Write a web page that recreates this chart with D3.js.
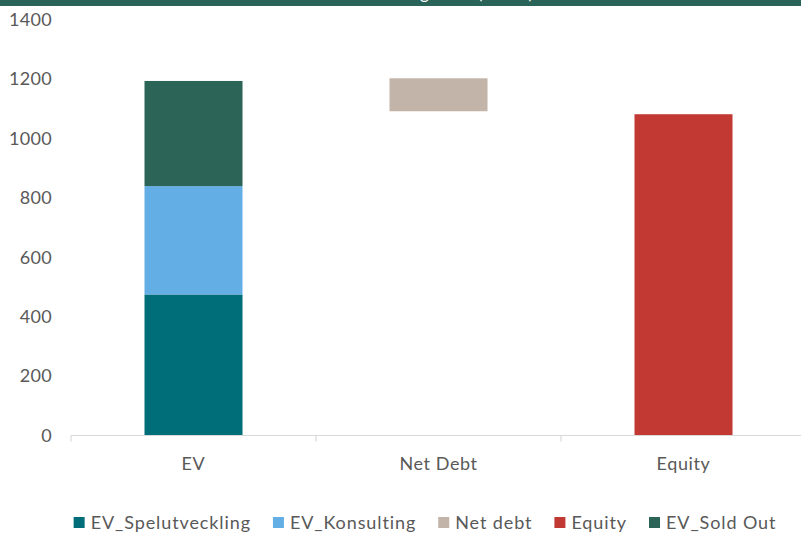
<!DOCTYPE html>
<html>
<head>
<meta charset="utf-8">
<script src="https://cdn.jsdelivr.net/npm/d3@7"></script>
<style>
  html, body { margin: 0; padding: 0; background: #fff; }
  svg { display: block; font-family: Lato, "Noto Sans", sans-serif; }
</style>
</head>
<body>
<svg id="chart" width="801" height="535"></svg>
<script>
// Categories and series (MSEK)
const categories = ["EV", "Net Debt", "Equity"];
const netDebtBase = [0, 1092, 0];          // invisible spacer under the net debt block
const evSpelutveckling = [475, 0, 0];
const evKonsulting = [365, 0, 0];
const netDebt = [0, 111, 0];
const equity = [0, 0, 1082];
const evSoldOut = [354, 0, 0];
const yTicks = [0, 200, 400, 600, 800, 1000, 1200, 1400];

const title = "Värdering totalt (MSEK)";

const series = [
  { key: "base", label: null, values: netDebtBase, color: "none" },
  { key: "spel", label: "EV_Spelutveckling", values: evSpelutveckling, color: "#006e78" },
  { key: "kons", label: "EV_Konsulting", values: evKonsulting, color: "#64aee6" },
  { key: "nd", label: "Net debt", values: netDebt, color: "#c2b4a8" },
  { key: "eq", label: "Equity", values: equity, color: "#c23934" },
  { key: "so", label: "EV_Sold Out", values: evSoldOut, color: "#2c6458" }
];

const rows = categories.map((c, i) => {
  const r = { category: c };
  series.forEach(s => r[s.key] = s.values[i]);
  return r;
});

const svg = d3.select("#chart");
const W = 801;

// Header band; the title sits above the visible strip, only its descenders show
const clip = svg.append("defs").append("clipPath").attr("id", "hdr");
clip.append("rect").attr("x", 0).attr("y", 0).attr("width", W).attr("height", 6);
svg.append("rect").attr("x", 0).attr("y", 0).attr("width", W).attr("height", 6).attr("fill", "#2a6358");
svg.append("text")
  .attr("clip-path", "url(#hdr)")
  .attr("x", 533).attr("y", -1)
  .attr("text-anchor", "end")
  .attr("fill", "#ffffff")
  .attr("font-size", 17)
  .text(title);

const x = d3.scaleBand().domain(categories).range([71, 806]).paddingInner(0).paddingOuter(0);
const y = d3.scaleLinear().domain([0, 1400]).range([435.5, 19.8]);
const barW = x.bandwidth() * 0.4;

const stacked = d3.stack().keys(series.map(s => s.key))(rows);

const g = svg.append("g");
stacked.forEach((layer, li) => {
  const s = series[li];
  if (s.color === "none") return;
  g.selectAll(null)
    .data(layer)
    .join("rect")
    .filter(d => d[1] - d[0] > 0)
    .attr("x", d => x(d.data.category) + (x.bandwidth() - barW) / 2)
    .attr("y", d => y(d[1]))
    .attr("width", barW)
    .attr("height", d => y(d[0]) - y(d[1]))
    .attr("fill", s.color);
});

// Category axis
const xAxis = svg.append("g").attr("transform", `translate(0,${y(0)})`);
xAxis.append("line")
  .attr("x1", 71).attr("x2", 806)
  .attr("stroke", "#d9d9d9").attr("stroke-width", 1.2);
const bounds = categories.map(c => x(c)).concat([x.range()[1]]);
xAxis.selectAll("line.tick")
  .data(bounds)
  .join("line")
  .attr("class", "tick")
  .attr("x1", d => d).attr("x2", d => d)
  .attr("y1", 0).attr("y2", 6)
  .attr("stroke", "#d9d9d9").attr("stroke-width", 1.2);
xAxis.selectAll("text")
  .data(categories)
  .join("text")
  .attr("x", d => x(d) + x.bandwidth() / 2)
  .attr("y", 34)
  .attr("text-anchor", "middle")
  .attr("fill", "#595959")
  .attr("font-size", 18)
  .attr("letter-spacing", 0.6)
  .text(d => d);

// Value axis labels
svg.append("g")
  .selectAll("text")
  .data(yTicks)
  .join("text")
  .attr("x", 52)
  .attr("y", d => y(d))
  .attr("dy", "0.35em")
  .attr("text-anchor", "end")
  .attr("fill", "#595959")
  .attr("font-size", 18)
  .attr("letter-spacing", 0.3)
  .text(d => d);

// Legend
const legendItems = series.filter(s => s.label);
const lg = svg.append("g");
const items = lg.selectAll("g").data(legendItems).join("g");
items.append("rect").attr("width", 11).attr("height", 11).attr("y", -6).attr("fill", d => d.color);
items.append("text")
  .attr("x", 17).attr("dy", "0.35em")
  .attr("fill", "#595959")
  .attr("font-size", 18)
  .attr("letter-spacing", 0.9)
  .text(d => d.label);
let cx = 0;
const gap = 22;
items.each(function () {
  const t = d3.select(this).select("text").node().getComputedTextLength();
  d3.select(this).attr("data-w", 17 + t);
});
items.attr("transform", function () {
  const w = +d3.select(this).attr("data-w");
  const tx = cx;
  cx += w + gap;
  return `translate(${tx},0)`;
});
const total = cx - gap;
lg.attr("transform", `translate(${425 - total / 2},523)`);
</script>
</body>
</html>
